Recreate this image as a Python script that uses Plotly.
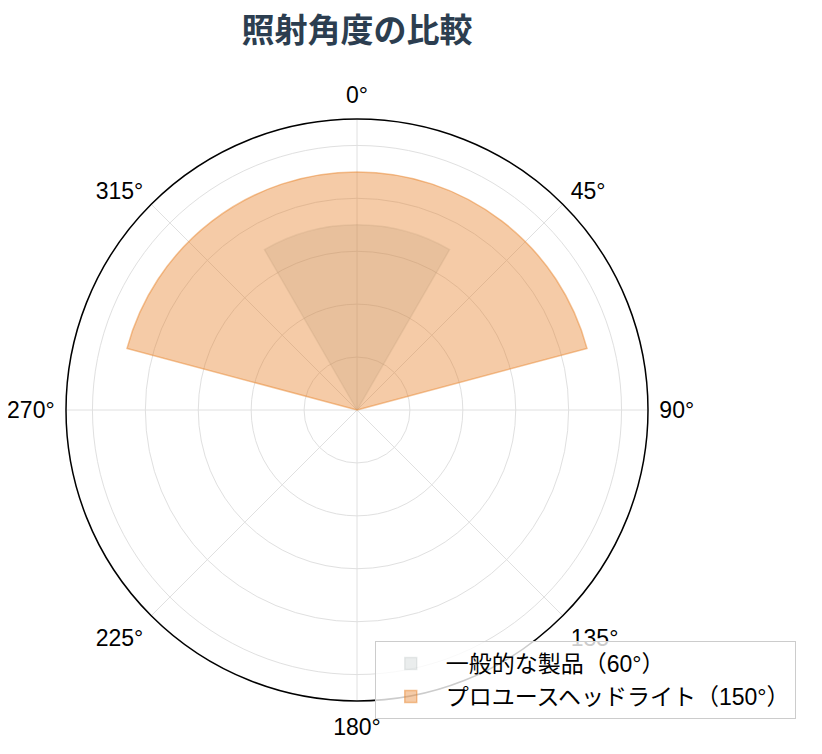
import plotly.graph_objects as go

# beam angle data
series_names = ["一般的な製品（60°）", "プロユースヘッドライト（150°）"]
beam_width = [60, 150]       # degrees
beam_reach = [70, 90]        # relative radius
beam_center = [0, 0]
fill_colors = ["rgba(149,165,166,0.2)", "rgba(230,126,34,0.4)"]
edge_colors = ["rgba(149,165,166,0.2)", "rgba(230,126,34,0.45)"]

angle_ticks = [0, 45, 90, 135, 180, 225, 270, 315]
angle_labels = [f"{a}°" for a in angle_ticks]

fig = go.Figure()
for i in range(len(series_names)):
    fig.add_trace(go.Barpolar(
        r=[beam_reach[i]],
        theta=[beam_center[i]],
        width=[beam_width[i]],
        name=series_names[i],
        marker=dict(color=fill_colors[i], line=dict(color=edge_colors[i], width=1.5)),
        hoverinfo="name",
    ))

fig.update_layout(
    width=822, height=754,
    margin=dict(l=32, r=156, t=111, b=61, autoexpand=False),
    paper_bgcolor="white",
    title=dict(text="<b>照射角度の比較</b>", x=0.5, xref="paper", xanchor="center",
               y=1, yref="container", yanchor="top", pad=dict(t=11),
               font=dict(family="Noto Sans CJK JP", size=33, color="#2c3e50")),
    polar=dict(
        bgcolor="white",
        barmode="overlay",
        radialaxis=dict(range=[0, 110], dtick=20, showticklabels=False, ticks="",
                        showline=False, gridcolor="#e0e0e0", gridwidth=1),
        angularaxis=dict(direction="clockwise", rotation=90,
                         tickmode="array", tickvals=angle_ticks, ticktext=angle_labels,
                         ticks="outside", ticklen=6, tickcolor="rgba(0,0,0,0)",
                         showline=True, linecolor="black", linewidth=1.5,
                         gridcolor="#e0e0e0", gridwidth=1,
                         tickfont=dict(family="Liberation Sans", size=23, color="black")),
    ),
    legend=dict(x=0.528, xanchor="left", y=0.103, yanchor="top", itemwidth=60,
                bgcolor="rgba(255,255,255,0.8)", bordercolor="#cccccc", borderwidth=1,
                font=dict(family="Liberation Sans, Noto Sans CJK JP", size=23, color="black")),
)

fig.write_html("out.html")
